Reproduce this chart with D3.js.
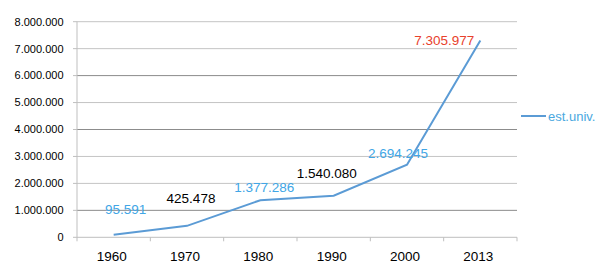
<!DOCTYPE html>
<html>
<head>
<meta charset="utf-8">
<script src="https://cdn.jsdelivr.net/npm/d3@7"></script>
<style>
body{margin:0;background:#fff;}
text{font-family:"Liberation Sans",Arial,sans-serif;}
</style>
</head>
<body>
<div id="chart"></div>
<script>
// dati
var years = ["1960","1970","1980","1990","2000","2013"];
var values = [95591, 425478, 1377286, 1540080, 2694245, 7305977];
var labelColors = ["#41a6e6","#000","#41a6e6","#000","#41a6e6","#e8412c"];
var yTicks = [0,1000000,2000000,3000000,4000000,5000000,6000000,7000000,8000000];
var seriesName = "est.univ.";
// spostamento etichette (dx, dy) rispetto al punto
var labelOffsets = [[12,-21],[4,-23],[4,-8],[-7,-18],[-9,-7],[-36,5]];

var w=609, h=269;
var padLeft=77, padRight=517, padTop=21.7, padBottom=237.3;

var svg = d3.select("#chart").append("svg").attr("width",w).attr("height",h);

var x = d3.scaleBand().domain(years).range([padLeft,padRight]);
var y = d3.scaleLinear().domain([0,8000000]).range([padBottom,padTop]);

var fmt = function(v){ return d3.format(",")(v).replace(/,/g,"."); };

// griglia
svg.selectAll(".grid").data(yTicks.filter(function(d){return d>0;})).enter().append("line")
    .attr("x1",padLeft).attr("x2",padRight).attr("y1",y).attr("y2",y)
    .attr("stroke",function(d){ return (d==1000000||d==4000000||d==6000000) ? "#8c8c8c" : "#c4c4c4"; })
    .attr("stroke-width",1);

// assi
svg.append("line").attr("x1",padLeft).attr("x2",padRight).attr("y1",padBottom).attr("y2",padBottom)
    .attr("stroke","#bfbfbf");
svg.append("line").attr("x1",padLeft).attr("x2",padLeft).attr("y1",padTop).attr("y2",padBottom)
    .attr("stroke","#bfbfbf");
// tacche x
var bounds = years.map(function(d){return x(d);}).concat([padRight]);
svg.selectAll(".tick").data(bounds).enter().append("line")
    .attr("x1",function(d){return d;}).attr("x2",function(d){return d;})
    .attr("y1",padBottom).attr("y2",padBottom+4).attr("stroke","#bfbfbf");
// tacche y
svg.selectAll(".ytick").data(yTicks).enter().append("line")
    .attr("x1",padLeft-4).attr("x2",padLeft).attr("y1",y).attr("y2",y).attr("stroke","#bfbfbf");

// etichette y
svg.selectAll(".ylab").data(yTicks).enter().append("text")
    .attr("x",63.5).attr("y",y).attr("dy",".35em").attr("text-anchor","end")
    .attr("font-size",11).attr("fill","#000").text(fmt);

// etichette x
svg.selectAll(".xlab").data(years).enter().append("text")
    .attr("x",function(d){return x(d)+x.bandwidth()/2-2;}).attr("y",260.7)
    .attr("text-anchor","middle").attr("font-size",13.5).attr("fill","#000").text(function(d){return d;});

// linea
var pts = years.map(function(d,i){ return [x(d)+x.bandwidth()/2, y(values[i])]; });
svg.append("path").attr("d",d3.line()(pts)).attr("fill","none")
    .attr("stroke","#5b9bd5").attr("stroke-width",2);

// etichette dati
svg.selectAll(".dlab").data(values).enter().append("text")
    .attr("x",function(d,i){return pts[i][0]+labelOffsets[i][0];})
    .attr("y",function(d,i){return pts[i][1]+labelOffsets[i][1];})
    .attr("text-anchor","middle").attr("font-size",13.5)
    .attr("fill",function(d,i){return labelColors[i];}).text(fmt);

// legenda
svg.append("line").attr("x1",521).attr("x2",546).attr("y1",116).attr("y2",116)
    .attr("stroke","#5b9bd5").attr("stroke-width",2);
svg.append("text").attr("x",548).attr("y",116).attr("dy",".35em")
    .attr("font-size",13).attr("fill","#4aa8e0").text(seriesName);
</script>
</body>
</html>
